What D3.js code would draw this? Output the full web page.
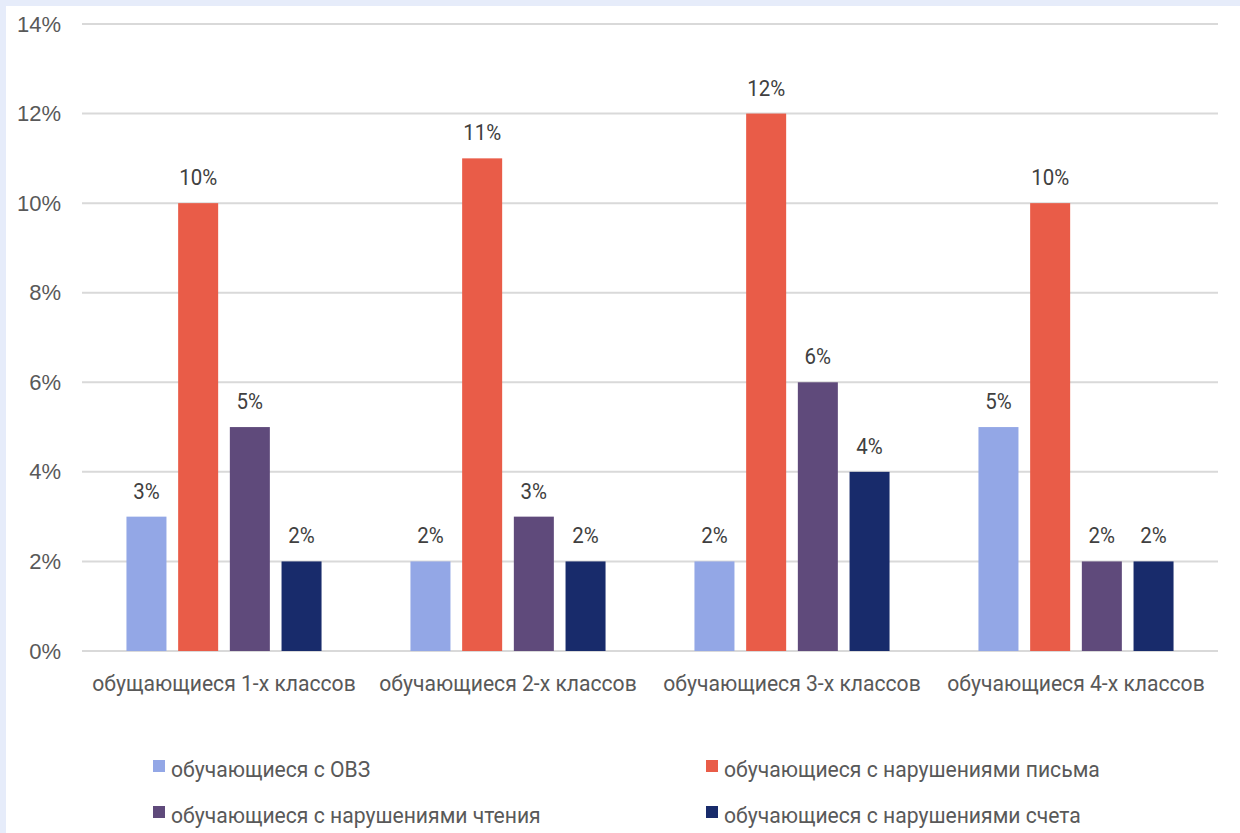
<!DOCTYPE html>
<html>
<head>
<meta charset="utf-8">
<script src="https://cdn.jsdelivr.net/npm/d3@7"></script>
<style>
  body { margin: 0; background: #e6ecfa; }
  svg { display: block; }
</style>
</head>
<body>
<script>
// categories and series
const categories = ['обущающиеся 1-х классов', 'обучающиеся 2-х классов', 'обучающиеся 3-х классов', 'обучающиеся 4-х классов'];
const seriesNames = ['обучающиеся с ОВЗ', 'обучающиеся с нарушениями письма', 'обучающиеся с нарушениями чтения', 'обучающиеся с нарушениями счета'];
const seriesColors = ['#93a7e6', '#e95c48', '#5f4a7b', '#182b6b'];
const ovz = [3, 2, 2, 5];
const pismo = [10, 11, 12, 10];
const chtenie = [5, 3, 6, 2];
const schet = [2, 2, 4, 2];
const yTicks = [0, 2, 4, 6, 8, 10, 12, 14];

const allSeries = [ovz, pismo, chtenie, schet];

const width = 1240;
const height = 833;
const margin = ({top: 24, right: 22, bottom: 182, left: 82});

const svg = d3.select('body')
  .append('svg')
  .attr('width', width)
  .attr('height', height);

// white panel
svg.append('rect')
  .attr('x', 6).attr('y', 6)
  .attr('width', width - 6).attr('height', height - 6)
  .attr('fill', 'white');

const yScale = d3.scaleLinear()
  .domain([0, 14])
  .range([height - margin.bottom, margin.top]);

const x0 = d3.scaleBand()
  .domain(categories)
  .range([margin.left, width - margin.right]);

const x1 = d3.scaleBand()
  .domain(d3.range(seriesNames.length))
  .range([0, x0.bandwidth()])
  .paddingInner(0.226)
  .paddingOuter(0.86);

// squeeze Roboto a bit so it looks like the condensed face of the original
function condense(sel, k) {
  sel.each(function() {
    const w = this.getComputedTextLength();
    d3.select(this).attr('textLength', w * k).attr('lengthAdjust', 'spacingAndGlyphs');
  });
}

// grid lines
svg.append('g')
  .selectAll('line')
  .data(yTicks)
  .join('line')
  .attr('x1', margin.left)
  .attr('x2', width - margin.right)
  .attr('y1', d => yScale(d))
  .attr('y2', d => yScale(d))
  .attr('stroke', '#d9d9d9')
  .attr('stroke-width', 2);

// Y axis labels
const yAxis = d3.axisLeft(yScale).tickValues(yTicks).tickSize(0).tickPadding(0).tickFormat(d => d + '%');
svg.append('g')
  .attr('transform', `translate(61,0)`)
  .call(yAxis)
  .call(g => g.select('.domain').remove())
  .selectAll('text')
  .attr('fill', '#595959')
  .attr('font-family', 'Liberation Sans, Arial, sans-serif')
  .attr('font-size', 22);

// bars
const rows = [];
categories.forEach((c, i) => {
  allSeries.forEach((s, j) => rows.push({cat: c, si: j, value: s[i]}));
});

svg.append('g')
  .selectAll('rect')
  .data(rows)
  .join('rect')
  .attr('x', d => x0(d.cat) + x1(d.si))
  .attr('y', d => yScale(d.value))
  .attr('width', x1.bandwidth())
  .attr('height', d => yScale(0) - yScale(d.value))
  .attr('fill', d => seriesColors[d.si]);

// value labels
svg.append('g')
  .selectAll('text')
  .data(rows)
  .join('text')
  .attr('x', d => x0(d.cat) + x1(d.si) + x1.bandwidth() / 2)
  .attr('y', d => yScale(d.value) - 18)
  .attr('text-anchor', 'middle')
  .attr('fill', '#404040')
  .attr('font-family', 'Roboto')
  .attr('font-size', 22)
  .call(condense, 0.93)
  .text(d => d.value + '%')
  .call(condense, 0.93);

// X axis
const xAxis = d3.axisBottom(x0).tickSize(0).tickPadding(0);
svg.append('g')
  .attr('transform', `translate(0,${yScale(0)})`)
  .call(xAxis)
  .call(g => g.select('.domain').remove())
  .selectAll('text')
  .attr('y', 0)
  .attr('dy', 40)
  .attr('fill', '#595959')
  .attr('font-family', 'Roboto')
  .attr('font-size', 22)
  .call(condense, 0.96);

// legend
const legendPos = [[153, 768], [706, 768], [153, 814], [706, 814]];
const legend = svg.append('g')
  .selectAll('g')
  .data(seriesNames)
  .join('g')
  .attr('transform', (d, i) => `translate(${legendPos[i][0]},${legendPos[i][1]})`);

legend.append('rect')
  .attr('x', 0).attr('y', -8)
  .attr('width', 12).attr('height', 12)
  .attr('fill', (d, i) => seriesColors[i]);

legend.append('text')
  .attr('x', 18)
  .attr('y', 9)
  .attr('fill', '#595959')
  .attr('font-family', 'Roboto')
  .attr('font-size', 22)
  .text(d => d)
  .call(condense, 0.96);
</script>
</body>
</html>
